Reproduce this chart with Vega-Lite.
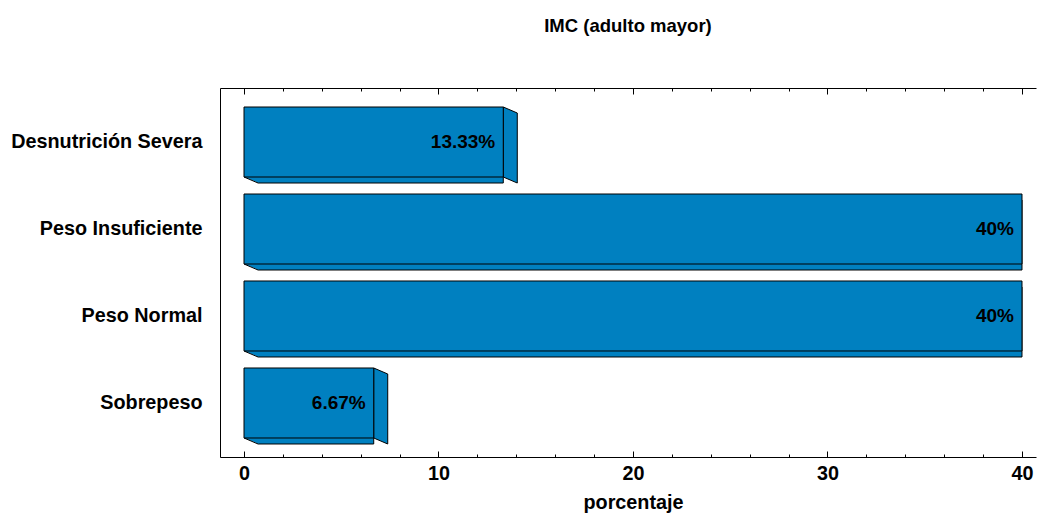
{
  "$schema": "https://vega.github.io/schema/vega-lite/v6.json",
  "width": 816,
  "height": 369,
  "autosize": {"type": "none"},
  "padding": {"left": 220, "top": 88, "right": 3, "bottom": 56},
  "background": "white",
  "title": {
    "text": "IMC (adulto mayor)",
    "font": "Liberation Sans",
    "fontSize": 18.5,
    "fontWeight": "bold",
    "color": "black",
    "anchor": "middle",
    "baseline": "alphabetic",
    "offset": 37
  },
  "data": {
    "values": [
      {"cat": "Desnutrición Severa", "pct": 13.33},
      {"cat": "Peso Insuficiente", "pct": 40},
      {"cat": "Peso Normal", "pct": 40},
      {"cat": "Sobrepeso", "pct": 6.67}
    ]
  },
  "resolve": {"scale": {"x": "shared"}, "axis": {"x": "independent"}},
  "layer": [
    {
      "mark": {"type": "bar", "fill": "#0080C0", "stroke": "black", "strokeWidth": 1, "x2Offset": 14, "yOffset": 6},
      "encoding": {
        "x": {
          "field": "pct", "type": "quantitative",
          "scale": {"domain": [-1.234, 40.72], "nice": false, "zero": false},
          "axis": {"orient": "bottom", "values": [0, 10, 20, 30, 40], "tickSize": -6, "labelPadding": 12, "labelFlush": false, "title": "porcentaje", "titleX": 413, "titlePadding": 10}
        },
        "x2": {"datum": 0},
        "y": {"field": "cat", "type": "nominal", "sort": null, "title": null, "scale": {"type": "band", "paddingInner": 0.1954, "paddingOuter": 0.2184}}
      }
    },
    {
      "transform": [{"filter": "datum.pct < 40"}],
      "mark": {"type": "point", "shape": "M0,-35L14,-29L14,41L0,35Z", "size": 4, "filled": true, "fill": "#0080C0", "stroke": "black", "strokeWidth": 1, "opacity": 1},
      "encoding": {
        "x": {
          "field": "pct", "type": "quantitative",
          "axis": {"orient": "bottom", "values": [2, 4, 6, 8, 12, 14, 16, 18, 22, 24, 26, 28, 32, 34, 36, 38], "tickSize": -3, "labels": false, "domain": false, "title": null}
        },
        "y": {"field": "cat", "type": "nominal", "sort": null, "title": null}
      }
    },
    {
      "mark": {"type": "point", "shape": "M0,34.5L0,35L13.6,40.5L15,40.5L15,34.5Z", "size": 4, "filled": true, "fill": "#0080C0", "strokeWidth": 0, "opacity": 1},
      "encoding": {
        "x": {"datum": 0, "type": "quantitative", "axis": null},
        "y": {"field": "cat", "type": "nominal", "sort": null, "title": null}
      }
    },
    {
      "mark": {"type": "point", "shape": "M0,35L14,41", "size": 4, "filled": false, "stroke": "black", "strokeWidth": 1, "opacity": 1},
      "encoding": {
        "x": {"datum": 0, "type": "quantitative", "axis": null},
        "y": {"field": "cat", "type": "nominal", "sort": null, "title": null}
      }
    },
    {
      "mark": {"type": "bar", "fill": "#0080C0", "stroke": "black", "strokeWidth": 1},
      "encoding": {
        "x": {
          "field": "pct", "type": "quantitative",
          "axis": {"orient": "top", "values": [0, 10, 20, 30, 40], "tickSize": -6, "labels": false, "title": null}
        },
        "x2": {"datum": 0},
        "y": {"field": "cat", "type": "nominal", "sort": null, "title": null}
      }
    },
    {
      "transform": [{"calculate": "format(datum.pct, '.2~f') + '%'", "as": "label"}],
      "mark": {"type": "text", "align": "right", "baseline": "middle", "dx": -8, "font": "Liberation Sans", "fontSize": 19, "fontWeight": "bold", "color": "black"},
      "encoding": {
        "x": {
          "field": "pct", "type": "quantitative",
          "axis": {"orient": "top", "values": [2, 4, 6, 8, 12, 14, 16, 18, 22, 24, 26, 28, 32, 34, 36, 38], "tickSize": -3, "labels": false, "domain": false, "title": null}
        },
        "y": {"field": "cat", "type": "nominal", "sort": null, "title": null},
        "text": {"field": "label"}
      }
    }
  ],
  "config": {
    "view": {"stroke": null},
    "axis": {
      "grid": false,
      "domainColor": "black",
      "domainWidth": 1,
      "tickColor": "black",
      "tickWidth": 1,
      "labelColor": "black",
      "titleColor": "black",
      "labelFont": "Liberation Sans",
      "titleFont": "Liberation Sans",
      "labelFontSize": 19.8,
      "labelFontWeight": "bold",
      "titleFontSize": 19.8,
      "titleFontWeight": "bold"
    },
    "axisY": {"ticks": false, "labelPadding": 18, "labelLimit": 0, "domain": true}
  }
}
